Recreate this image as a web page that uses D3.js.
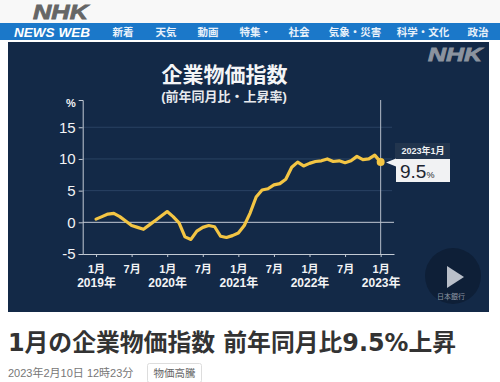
<!DOCTYPE html>
<html lang="ja">
<head>
<meta charset="utf-8">
<script src="https://cdn.jsdelivr.net/npm/d3@7"></script>
<style>
html, body { margin: 0; padding: 0; background: #fff; overflow: hidden; }
svg { display: block; }
text { font-family: "Liberation Sans", "Noto Sans CJK JP", sans-serif; }
</style>
</head>
<body>
<div id="chart"></div>
<script>
// monthly values, Jan 2019 - Jan 2023
const values2019 = [0.5, 0.9, 1.3, 1.4, 0.9, 0.2, -0.5, -0.8, -1.1, -0.4, 0.3, 1.0];
const values2020 = [1.7, 0.9, -0.1, -2.3, -2.7, -1.4, -0.8, -0.5, -0.7, -2.2, -2.4, -2.1];
const values2021 = [-1.7, -0.5, 1.5, 4.0, 5.1, 5.3, 5.9, 6.1, 6.8, 8.7, 9.5, 8.9];
const values2022 = [9.3, 9.6, 9.7, 10.0, 9.6, 9.7, 9.4, 9.7, 10.4, 9.9, 10.0, 10.6];
const values2023 = [9.5];
const values = [...values2019, ...values2020, ...values2021, ...values2022, ...values2023];

const yTicks = [-5, 0, 5, 10, 15];
const gridTicks = [5, 10, 15];
const tickMonths = [0, 6, 12, 18, 24, 30, 36, 42, 48];
const tickLabels = ["1月", "7月", "1月", "7月", "1月", "7月", "1月", "7月", "1月"];
const yearLabels = ["2019年", "", "2020年", "", "2021年", "", "2022年", "", "2023年"];

const navLabels = ["新着", "天気", "動画", "特集", "社会", "気象・災害", "科学・文化", "政治"];
const navCenters = [123, 166, 208, 250, 299, 355, 423, 478];

const svg = d3.select("#chart").append("svg").attr("width", 500).attr("height", 382);

// page header
svg.append("rect").attr("width", 500).attr("height", 23).attr("fill", "#f8f8f8");
svg.append("text").attr("x", 33).attr("y", 19).attr("font-size", 20).attr("font-weight", 700)
    .attr("font-style", "italic").attr("fill", "#666").attr("stroke", "#666").attr("stroke-width", 0.8)
    .attr("textLength", 55).attr("lengthAdjust", "spacingAndGlyphs").text("NHK");
svg.append("rect").attr("y", 23).attr("width", 500).attr("height", 17).attr("fill", "#1b78c9");
svg.append("text").attr("x", 14).attr("y", 37).attr("font-size", 13).attr("font-weight", 700)
    .attr("font-style", "italic").attr("fill", "#fff").attr("textLength", 76)
    .attr("lengthAdjust", "spacingAndGlyphs").text("NEWS WEB");
svg.selectAll("text.nav").data(navLabels).enter().append("text")
    .attr("class", "nav")
    .attr("x", (d, i) => navCenters[i])
    .attr("y", 36)
    .attr("text-anchor", "middle")
    .attr("font-size", 10.5)
    .attr("font-weight", 700)
    .attr("fill", "#e8f1fa")
    .text(d => d);
svg.append("path").attr("d", "M264,31h4l-2,2.5z").attr("fill", "#e8f1fa");

// chart panel
svg.append("rect").attr("x", 8).attr("y", 42).attr("width", 481).attr("height", 270).attr("fill", "#132947");
svg.append("text").attr("x", 482).attr("y", 61).attr("text-anchor", "end").attr("font-size", 18)
    .attr("font-weight", 700).attr("font-style", "italic").attr("fill", "#8b939f")
    .attr("stroke", "#8b939f").attr("stroke-width", 0.8)
    .attr("textLength", 54).attr("lengthAdjust", "spacingAndGlyphs").text("NHK");
svg.append("text").attr("x", 224.5).attr("y", 82).attr("text-anchor", "middle").attr("font-size", 21)
    .attr("font-weight", 700).attr("fill", "#f4f5f7").text("企業物価指数");
svg.append("text").attr("x", 224).attr("y", 101).attr("text-anchor", "middle").attr("font-size", 13)
    .attr("font-weight", 700).attr("fill", "#e8eaee").text("(前年同月比・上昇率)");

const monthIndex = d3.range(values.length);
const x = d3.scalePoint().domain(monthIndex).range([82.7, 394]).padding(2.25);
const y = d3.scaleLinear().domain([-5, 19.3]).range([254, 100]);

// grid
svg.selectAll("line.grid").data(gridTicks).enter().append("line")
    .attr("class", "grid")
    .attr("x1", x.range()[0]).attr("x2", 392)
    .attr("y1", d => y(d)).attr("y2", d => y(d))
    .attr("stroke", "#2a4263").attr("stroke-width", 1);
svg.append("line")
    .attr("x1", x.range()[0]).attr("x2", 394)
    .attr("y1", y(0)).attr("y2", y(0))
    .attr("stroke", "#c3cad4").attr("stroke-width", 1);

// axes
const yAxis = svg.append("g").attr("transform", "translate(82.7,0)")
    .call(d3.axisLeft(y).tickValues(yTicks).tickSize(4).tickFormat(d => d < 0 ? "-" + Math.abs(d) : d));
const xAxis = svg.append("g").attr("transform", "translate(0,254)")
    .call(d3.axisBottom(x).tickValues(tickMonths).tickSize(3).tickSizeOuter(0).tickFormat((d, i) => tickLabels[i]));
[yAxis, xAxis].forEach(a => a.selectAll("path.domain, .tick line").attr("stroke", "#c3cad4"));
yAxis.selectAll("text").attr("fill", "#f2f3f5").attr("font-size", 15).attr("font-weight", 400)
    .attr("font-family", "Liberation Sans");
xAxis.selectAll("text").attr("fill", "#f2f3f5").attr("font-size", 11).attr("font-weight", 700).attr("y", 11);
xAxis.selectAll(".tick").append("text")
    .attr("y", 32.5).attr("text-anchor", "middle").attr("dy", "0")
    .attr("fill", "#f2f3f5").attr("font-size", 12).attr("font-weight", 700)
    .text((d, i) => yearLabels[i]);
svg.append("text").attr("x", 71).attr("y", 107).attr("text-anchor", "middle").attr("font-size", 11)
    .attr("font-weight", 700).attr("fill", "#f2f3f5").text("%");

// marker line for the last month
const last = values.length - 1;
svg.append("line")
    .attr("x1", x(last)).attr("x2", x(last))
    .attr("y1", 100).attr("y2", 254)
    .attr("stroke", "#b5bdc9").attr("stroke-width", 1);

// series
const line = d3.line().x((d, i) => x(i)).y(d => y(d));
svg.append("path").datum(values)
    .attr("d", line)
    .attr("fill", "none")
    .attr("stroke", "#f3c544")
    .attr("stroke-width", 3.2)
    .attr("stroke-linejoin", "round")
    .attr("stroke-linecap", "round");
svg.append("circle").attr("cx", x(last)).attr("cy", y(values[last])).attr("r", 4).attr("fill", "#f3c544");

// callout
svg.append("rect").attr("x", 395).attr("y", 143).attr("width", 55).attr("height", 16).attr("fill", "#22354e");
svg.append("text").attr("x", 423).attr("y", 154).attr("text-anchor", "middle").attr("font-size", 9)
    .attr("font-weight", 700).attr("fill", "#f0f1f3").text("2023年1月");
svg.append("rect").attr("x", 396).attr("y", 159).attr("width", 54).attr("height", 23).attr("fill", "#f1f2f3");
svg.append("path").attr("d", "M386,162.5L396,158.5V166.5z").attr("fill", "#f1f2f3");
const callout = svg.append("text").attr("x", 400).attr("y", 177.5).attr("fill", "#1c2530");
callout.append("tspan").attr("font-size", 19).text(values[last].toFixed(1));
callout.append("tspan").attr("font-size", 9).text("%");

// play button
svg.append("circle").attr("cx", 453).attr("cy", 276).attr("r", 28).attr("fill", "#0e1f37");
svg.append("path").attr("d", "M447,266L464,277L447,288z").attr("fill", "#b9bfc9");
svg.append("text").attr("x", 451).attr("y", 299).attr("text-anchor", "middle").attr("font-size", 7)
    .attr("fill", "#8e96a3").text("日本銀行");

// headline
svg.append("text").attr("x", 8).attr("y", 351).attr("font-size", 24).attr("font-weight", 700)
    .attr("fill", "#333").attr("style", "font-family:'DejaVu Sans','Noto Sans CJK JP'")
    .attr("textLength", 448).attr("lengthAdjust", "spacingAndGlyphs")
    .text("1月の企業物価指数 前年同月比9.5%上昇");
svg.append("text").attr("x", 8).attr("y", 377).attr("font-size", 11).attr("fill", "#777")
    .text("2023年2月10日 12時23分");
svg.append("rect").attr("x", 147.5).attr("y", 363.5).attr("width", 54).attr("height", 19).attr("rx", 2)
    .attr("fill", "#fff").attr("stroke", "#ddd");
svg.append("text").attr("x", 174.5).attr("y", 377).attr("text-anchor", "middle").attr("font-size", 10.5)
    .attr("fill", "#666").text("物価高騰");
</script>
</body>
</html>
